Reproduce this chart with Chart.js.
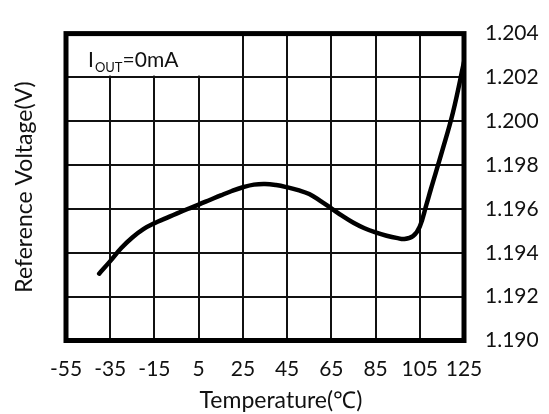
<!DOCTYPE html>
<html>
<head>
<meta charset="utf-8">
<script src="https://cdn.jsdelivr.net/npm/chart.js@4/dist/chart.umd.min.js"></script>
<style>
html,body{margin:0;padding:0;background:#fff;}
#wrap{width:549px;height:414px;}
</style>
</head>
<body>
<div id="wrap"><canvas id="c" width="549" height="414"></canvas></div>
<script>
const temperatures = [-40,-35,-30,-25,-20,-15,-10,-5,0,5,10,15,20,25,30,35,40,45,50,55,60,65,70,75,80,85,90,95,98,102,105,108,110,115,120,125];
const voltages = [1.19305,1.19362,1.19422,1.1947,1.19508,1.19535,1.19557,1.19579,1.1960,1.1962,1.19641,1.19662,1.19682,1.19699,1.19711,1.19714,1.19709,1.19699,1.19686,1.19668,1.19637,1.19603,1.19568,1.19537,1.19512,1.19493,1.19478,1.19467,1.19463,1.19477,1.1952,1.1962,1.1969,1.1986,1.2004,1.2027];
const xTicks = [-55,-35,-15,5,25,45,65,85,105,125];
const yTicks = [1.190,1.192,1.194,1.196,1.198,1.200,1.202,1.204];
const xTitle = 'Temperature(\u2103)';
const yTitle = 'Reference Voltage(V)';
const noteMain = 'I';
const noteSub = 'OUT';
const noteRest = '=0mA';

const FONT = 'Lato';
const points = temperatures.map((t,i)=>({x:t,y:voltages[i]}));

const frame = {
  id:'frame',
  afterDraw(chart){
    const {ctx, chartArea:a} = chart;
    ctx.save();
    ctx.fillStyle = '#fff';
    ctx.fillRect(a.left, a.top, 134, 42);
    ctx.fillStyle = '#111';
    ctx.textBaseline = 'alphabetic';
    ctx.font = '21px ' + FONT;
    let x = a.left + 22;
    ctx.fillText(noteMain, x, a.top + 33);
    x += ctx.measureText(noteMain).width + 1;
    ctx.font = '13px ' + FONT;
    ctx.fillText(noteSub, x, a.top + 38);
    x += ctx.measureText(noteSub).width;
    ctx.font = '21px ' + FONT;
    ctx.fillText(noteRest, x, a.top + 33);
    // x axis title
    ctx.font = '23px ' + FONT;
    ctx.textAlign = 'center';
    ctx.textBaseline = 'middle';
    ctx.fillText(xTitle, a.left + (a.right - a.left) * 0.54, 401);
    ctx.strokeStyle = '#000';
    ctx.lineWidth = 5;
    ctx.strokeRect(a.left, a.top, a.right - a.left, a.bottom - a.top);
    ctx.restore();
  }
};

new Chart(document.getElementById('c'), {
  type:'line',
  data:{datasets:[{
    data:points,
    borderColor:'#000',
    borderWidth:4.5,
    pointRadius:0,
    fill:false,
    tension:0.4,
    borderCapStyle:'round',
    borderJoinStyle:'round'
  }]},
  options:{
    responsive:false,
    animation:false,
    events:[],
    layout:{padding:{top:15,left:0,right:0,bottom:0}},
    plugins:{legend:{display:false},tooltip:{enabled:false}},
    scales:{
      x:{
        type:'linear',min:-55,max:125,
        afterBuildTicks(s){ s.ticks = xTicks.map(v=>({value:v})); },
        afterFit(s){ s.height = 73.5; },
        grid:{color:'#111',lineWidth:2,drawTicks:false},
        border:{display:false},
        ticks:{padding:16,color:'#111',font:{family:FONT,size:21},maxRotation:0,autoSkip:false,
          callback:(v)=>String(v)},
        title:{display:false}
      },
      y:{
        type:'linear',position:'right',min:1.190,max:1.204,
        afterBuildTicks(s){ s.ticks = yTicks.map(v=>({value:v})); },
        afterFit(s){ s.width = 85; },
        grid:{color:'#111',lineWidth:2,drawTicks:false},
        border:{display:false},
        ticks:{padding:21,color:'#111',font:{family:FONT,size:21},autoSkip:false,
          callback:(v)=>Number(v).toFixed(3)}
      },
      yl:{
        type:'linear',position:'left',min:1.190,max:1.204,
        afterFit(s){ s.width = 66; },
        grid:{display:false},
        border:{display:false},
        ticks:{display:false},
        title:{display:true,text:yTitle,color:'#111',font:{family:FONT,size:23},padding:{top:11,bottom:0}}
      }
    }
  },
  plugins:[frame]
});
</script>
</body>
</html>
